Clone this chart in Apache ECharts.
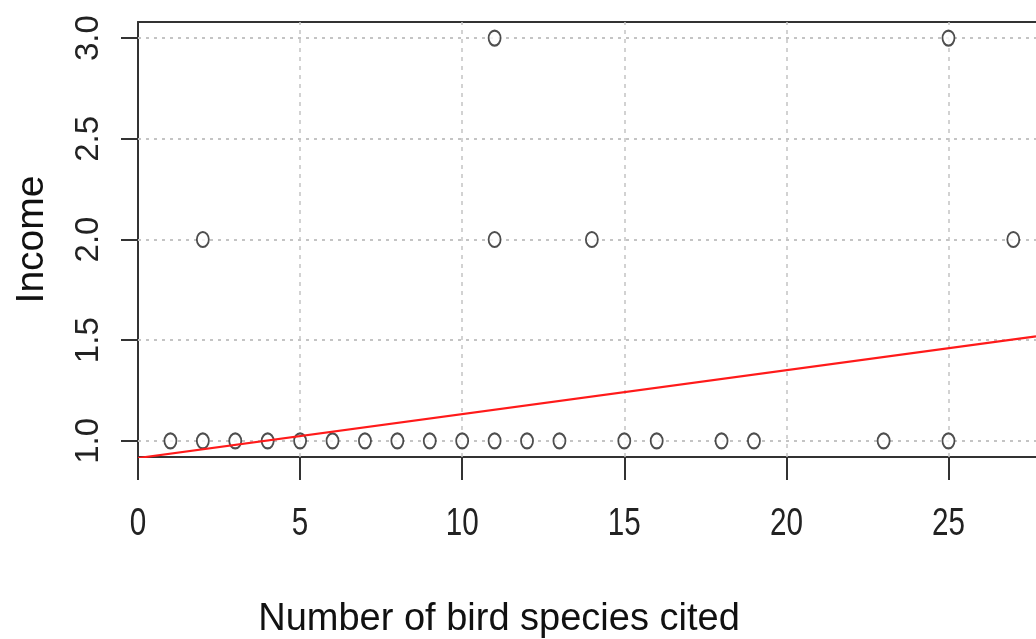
<!DOCTYPE html>
<html>
<head>
<meta charset="utf-8">
<script src="https://cdn.jsdelivr.net/npm/echarts@6/dist/echarts.min.js"></script>
<style>
html,body{margin:0;padding:0;background:#fff;overflow:hidden;}
#chart{width:1036px;height:639px;}
</style>
</head>
<body>
<div id="chart"></div>
<script>
// Data
const pointsX = [1,2,3,4,5,6,7,8,9,10,11,12,13,15,16,18,19,23,25, 2,11,14,27, 11,25];
const pointsY = [1,1,1,1,1,1,1,1,1,1,1,1,1,1,1,1,1,1,1, 2,2,2,2, 3,3];
const fitLineX = [0, 27.7];
const fitLineY = [0.915, 1.519];
const xTicks = [0,5,10,15,20,25];
const xTickLabels = ['0','5','10','15','20','25'];
const yTicks = [1.0,1.5,2.0,2.5,3.0];
const yTickLabels = ['1.0','1.5','2.0','2.5','3.0'];
const xTitle = 'Number of bird species cited';
const yTitle = 'Income';

const scatterData = pointsX.map((x,i)=>[x, pointsY[i]]);
const lineData = fitLineX.map((x,i)=>[x, fitLineY[i]]);

const gridStyleH = {color:'#c4c4c4', type:[3,5], width:2};
const gridStyleV = {color:'#c4c4c4', type:[4,5], width:1.5};
const FONT = '"Liberation Sans", Arial, sans-serif';

const chart = echarts.init(document.getElementById('chart'), null, {renderer:'canvas'});
chart.setOption({
  animation:false,
  backgroundColor:'#fff',
  grid:{left:138, top:22, right:0, bottom:182, containLabel:false, outerBoundsMode:'none'},
  xAxis:[{
    type:'value', min:0, max:27.7,
    axisLine:{show:true, onZero:false, lineStyle:{color:'#333', width:2}},
    axisTick:{show:true, customValues:xTicks, length:23, lineStyle:{color:'#333', width:2}},
    axisLabel:{show:false},
    splitLine:{show:false}
  },{
    type:'value', min:0, max:27.7, position:'top',
    axisLine:{show:true, onZero:false, lineStyle:{color:'#333', width:2}},
    axisTick:{show:false}, axisLabel:{show:false}, splitLine:{show:false}
  }],
  yAxis:{
    type:'value', min:0.92, max:3.08,
    axisLine:{show:true, onZero:false, lineStyle:{color:'#333', width:2}},
    axisTick:{show:true, customValues:yTicks, length:17, lineStyle:{color:'#333', width:2}},
    axisLabel:{show:true, customValues:yTicks, rotate:90, margin:33, fontSize:33,
      fontFamily:FONT, color:'#222',
      formatter:function(v){ const i = yTicks.indexOf(v); return i>=0 ? yTickLabels[i] : v.toFixed(1); }},
    splitLine:{show:false},
    name:yTitle, nameLocation:'middle', nameRotate:90, nameGap:86,
    nameTextStyle:{fontSize:39, fontFamily:FONT, color:'#111'}
  },
  series:[{
    type:'scatter', data:scatterData, symbol:'emptyCircle', symbolSize:[12,15],
    itemStyle:{color:'#222', borderColor:'#222', borderWidth:2.6}, z:3,
    markLine:{
      silent:true, symbol:['none','none'], label:{show:false},
      lineStyle:gridStyleH, z:1,
      data: yTicks.map(v=>({yAxis:v, lineStyle:gridStyleH})).concat(
            xTicks.filter(v=>v>0).map(v=>({xAxis:v, lineStyle:gridStyleV})))
    }
  },{
    type:'line', data:lineData, showSymbol:false, symbol:'none',
    lineStyle:{color:'#ff1a1a', width:2.2}, z:4, clip:true
  }]
});

// x tick labels: horizontally condensed text, positioned through the axis scale
const labelY = 525;
const graphics = xTicks.map((v,i)=>{
  const px = chart.convertToPixel({xAxisIndex:0}, v);
  return {
    type:'text', x:px, y:labelY, scaleX:0.78, originX:0, originY:0,
    style:{text:xTickLabels[i], fontSize:38, fontFamily:FONT, fill:'#222',
      align:'center', verticalAlign:'middle'}
  };
});
graphics.push({
  type:'text', x:499, y:620,
  style:{text:xTitle, fontSize:38, fontFamily:FONT, fill:'#111', align:'center', verticalAlign:'middle'}
});
chart.setOption({graphic:graphics});
</script>
</body>
</html>
